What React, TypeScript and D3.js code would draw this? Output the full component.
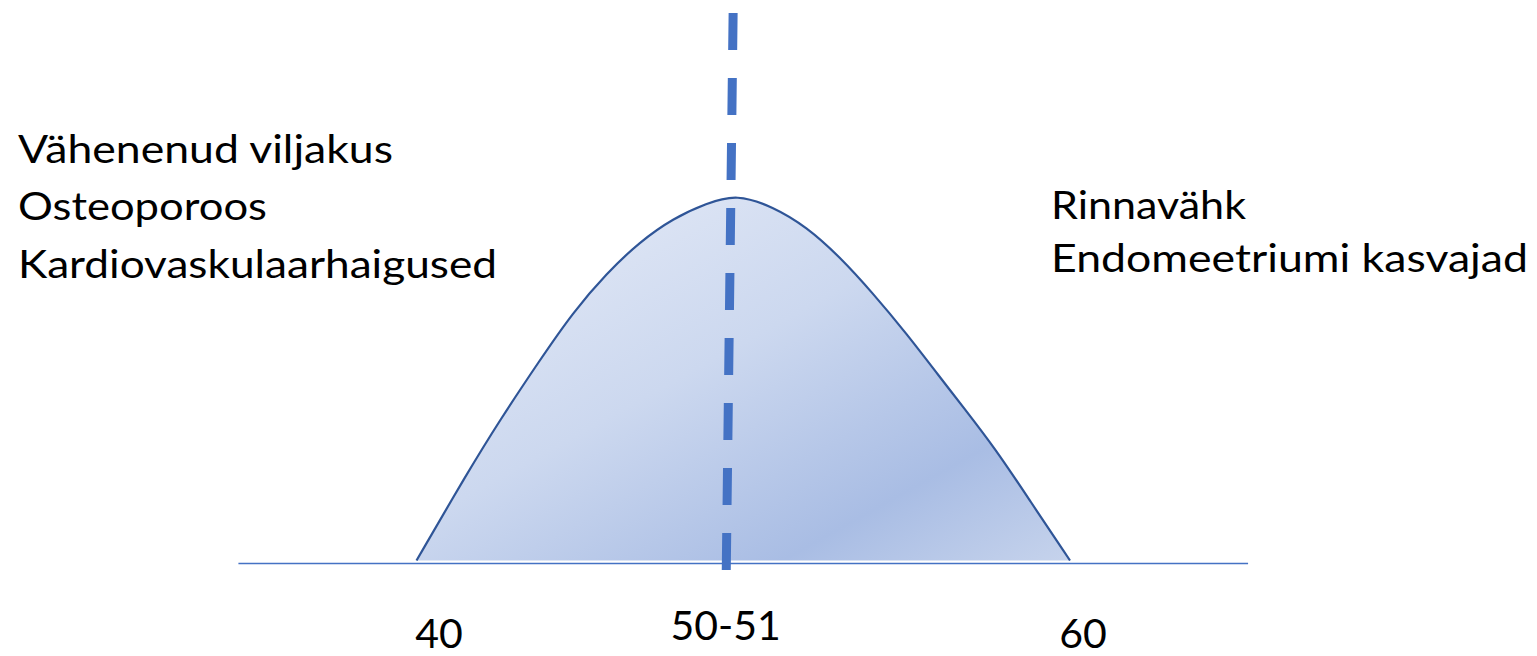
import React from "react";
import * as d3 from "d3";

// Curve (age vs relative level)
const curveAge = [40, 41.535, 42.553, 43.777, 44.795, 45.817, 46.835, 47.853, 48.875, 49.8, 50.911, 51.933, 52.951, 53.969, 54.991, 56.009, 56.722, 57.743, 58.761, 60];
const curveLevel = [0, 23.8, 38.65, 55.16, 68.36, 79.0, 87.7, 94.14, 98.27, 100.8, 97.33, 91.83, 83.58, 73.51, 62.5, 50.56, 42.3, 30.4, 16.64, 0];

// Baseline extent (age)
const axisExtent = [34.55, 65.45];
const axisLevel = -0.8;

// Median line (age at top / bottom, level at top / bottom)
const medianAge = [49.69, 49.48];
const medianLevel = [150.6, -2.6];

// Tick labels
const tickLabels = ["40", "50-51", "60"];
const tickAge = [40.69, 49.46, 60.4];
const tickLevel = [-24.0, -21.9, -24.0];

// Side annotations
const leftLabels = ["Vähenenud viljakus", "Osteoporoos", "Kardiovaskulaarhaigused"];
const leftWidths = [375, 249, 479];
const rightLabels = ["Rinnavähk", "Endomeetriumi kasvajad"];
const rightWidths = [195, 477];

export default function App() {
  const W = 1537, H = 656;
  const x = d3.scaleLinear().domain([40, 60]).range([416.5, 1070]);
  const y = d3.scaleLinear().domain([0, 100]).range([560.5, 197]);

  const pts: [number, number][] = curveAge.map((a, i) => [a, curveLevel[i]]);
  const line = d3.line<[number, number]>().x(d => x(d[0])).y(d => y(d[1])).curve(d3.curveBasis);
  const area = d3.area<[number, number]>().x(d => x(d[0])).y0(y(0)).y1(d => y(d[1])).curve(d3.curveBasis);

  const font = "Lato, 'Open Sans', sans-serif";
  const leftBase = [163, 220, 278];
  const rightBase = [219, 272];

  return (
    <svg width={W} height={H} style={{ position: "absolute", left: 0, top: 0, background: "#fff" }}>
      <defs>
        <linearGradient id="bellFill" x1="0" y1="0" x2="1" y2="1">
          <stop offset="0" stopColor="#e8edf8" />
          <stop offset="0.45" stopColor="#ccd8ef" />
          <stop offset="0.78" stopColor="#a9bde4" />
          <stop offset="1" stopColor="#c6d3ec" />
        </linearGradient>
      </defs>
      <path d={area(pts) || ""} fill="url(#bellFill)" />
      <path d={line(pts) || ""} fill="none" stroke="#2F5597" strokeWidth={2.2} />
      <line x1={x(axisExtent[0])} x2={x(axisExtent[1])} y1={y(axisLevel)} y2={y(axisLevel)} stroke="#4472C4" strokeWidth={1.5} />
      <line
        x1={x(medianAge[0])} y1={y(medianLevel[0])}
        x2={x(medianAge[1])} y2={y(medianLevel[1])}
        stroke="#4472C4" strokeWidth={9} strokeDasharray="37 28"
      />
      {tickLabels.map((t, i) => (
        <text key={t} x={x(tickAge[i])} y={y(tickLevel[i])} textAnchor="middle" fontFamily={font} fontSize={41} fill="#000">{t}</text>
      ))}
      {leftLabels.map((t, i) => (
        <text key={t} x={18} y={leftBase[i]} fontFamily={font} fontSize={39} fill="#000" textLength={leftWidths[i]} lengthAdjust="spacingAndGlyphs">{t}</text>
      ))}
      {rightLabels.map((t, i) => (
        <text key={t} x={1051} y={rightBase[i]} fontFamily={font} fontSize={39} fill="#000" textLength={rightWidths[i]} lengthAdjust="spacingAndGlyphs">{t}</text>
      ))}
    </svg>
  );
}
